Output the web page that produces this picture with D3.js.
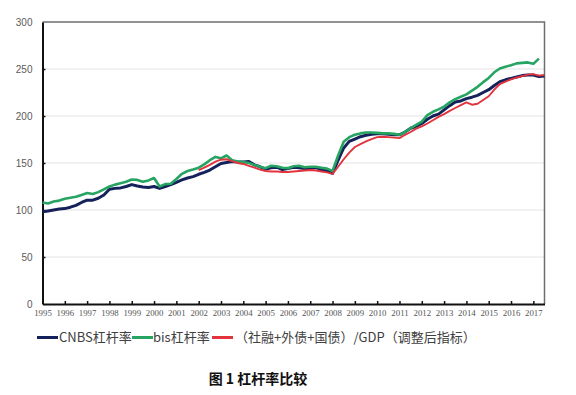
<!DOCTYPE html>
<html lang="zh">
<head>
<meta charset="utf-8">
<script src="https://cdn.jsdelivr.net/npm/d3@7"></script>
<style>
  body { margin: 0; background: #fff; }
  svg { display: block; }
</style>
</head>
<body>
<div id="chart"></div>
<script>
// quarterly series, first value at the start year, one value per quarter
var cnbsStart = 1995;
var cnbs = [98, 99, 100, 101,
  101.5, 103, 105, 108,
  110.5, 110.5, 112.5, 116,
  122, 123, 123.5, 125,
  127, 125.5, 124.5, 124,
  125, 123, 125, 127,
  129.5, 132, 134, 135.5,
  138, 140, 142.5, 146,
  149.5, 150.5, 151.5, 151,
  151, 151.5, 148, 146,
  143.5, 145, 145.5, 143,
  144, 145.5, 145, 144,
  144.5, 145, 143, 141.5,
  139, 153, 166, 173,
  175.5, 178, 179.5, 180.5,
  181, 181, 180.5, 180,
  180, 183, 187, 189,
  192, 196.5, 200, 202,
  206.5, 211, 215, 216,
  218.5, 220, 222, 225,
  228, 232.5, 236.5, 238.5,
  240, 241.5, 243, 243.5,
  243.5, 242, 242.5];

var bisStart = 1995;
var bis = [108, 107, 109, 110,
  112, 113, 114, 116,
  118, 117, 119, 122,
  125, 127, 128.5, 130,
  132.5, 132, 130, 131.5,
  134, 125, 127.5, 128,
  133, 138.5, 141.5, 143,
  145, 148.5, 153, 156.5,
  155, 158, 153, 151.5,
  151, 150, 148, 146,
  144.5, 147, 146.5, 145,
  144.5, 146.5, 147, 145.5,
  146, 146, 145, 144,
  141.5, 158, 172.5, 177.5,
  180, 181.5, 182.5, 182.5,
  182, 181.5, 181.5, 181,
  180, 183, 187, 190.5,
  194, 201, 204.5, 207,
  210, 214.5, 218, 220.5,
  223, 227, 231, 236,
  240.5, 246.5, 250.5, 252.5,
  254, 256, 256.5, 257,
  255.5, 261];

var adjStart = 2002;
var adj = [142.5, 145, 148, 151.5,
  153.5, 154, 152, 150,
  149, 147, 145, 143,
  141.5, 141, 141, 140.5,
  140.5, 141, 141.5, 142,
  142.5, 142, 141, 140,
  138.5, 146, 154, 161,
  167, 170, 173, 175.5,
  177.5, 178, 177.5, 177,
  176.5, 180, 183, 186.5,
  189, 192, 195.5, 199,
  202, 205.5, 208.5, 211.5,
  214.5, 212, 213, 217,
  221, 228, 234, 236.5,
  239, 241, 242.5, 244,
  244.5, 243, 243.5];

var years = d3.range(1995, 2018);
var yTicks = [0, 50, 100, 150, 200, 250, 300];
var legendLabels = ["CNBS杠杆率", "bis杠杆率", "（社融+外债+国债）/GDP（调整后指标）"];
var title = "图 1  杠杆率比较";

var W = 576, H = 395;
var plotL = 42.5, plotR = 544.5, plotT = 22, plotB = 304;

var svg = d3.select("#chart").append("svg")
  .attr("width", W).attr("height", H)
  .style("font-family", "'Noto Sans CJK SC', 'Noto Sans', sans-serif");

var x = d3.scaleLinear().domain([1995, 2017.5]).range([plotL, plotR]);
var y = d3.scaleLinear().domain([0, 300]).range([plotB, plotT]);

// gridlines
svg.append("g").selectAll("line")
  .data(yTicks.filter(function(d){ return d > 0 && d < 300; }))
  .enter().append("line")
  .attr("x1", plotL).attr("x2", plotR)
  .attr("y1", function(d){ return y(d); })
  .attr("y2", function(d){ return y(d); })
  .attr("stroke", "#e2e2e2").attr("stroke-width", 1);

// top and right frame
svg.append("path")
  .attr("d", "M" + plotL + "," + plotT + "H" + plotR + "V" + plotB)
  .attr("fill", "none").attr("stroke", "#6e6e6e").attr("stroke-width", 1.5);

// y axis
var yAxis = svg.append("g")
  .attr("transform", "translate(" + plotL + ",0)")
  .call(d3.axisLeft(y).tickValues(yTicks).tickSize(-3).tickSizeOuter(0).tickPadding(10));
yAxis.select(".domain").attr("stroke", "#111").attr("stroke-width", 2);
yAxis.selectAll(".tick line").attr("stroke", "#111").attr("stroke-width", 1.5);
yAxis.selectAll("text")
  .attr("fill", "#5a5a5a").style("font-size", "10px")
  .style("font-family", "'Liberation Sans', Arial, sans-serif");
yAxis.selectAll(".tick").filter(function(d){ return d === 0 || d === 300; })
  .select("line").remove();

// x axis
var xAxis = svg.append("g")
  .attr("transform", "translate(0," + plotB + ")")
  .call(d3.axisBottom(x).tickValues(years).tickFormat(d3.format("d"))
    .tickSize(-3).tickSizeOuter(0).tickPadding(6));
xAxis.select(".domain").attr("stroke", "#111").attr("stroke-width", 2);
xAxis.selectAll(".tick line").attr("stroke", "#111").attr("stroke-width", 1.5);
xAxis.selectAll("text")
  .attr("fill", "#555").style("font-size", "8.8px")
  .style("font-family", "'Liberation Serif', 'Times New Roman', serif");

// series
function toPoints(start, vals) {
  return vals.map(function(v, i){ return { t: start + i / 4, v: v }; });
}
var line = d3.line()
  .x(function(d){ return x(d.t); })
  .y(function(d){ return y(d.v); });

var series = [
  { pts: toPoints(cnbsStart, cnbs), color: "#15215a", width: 3 },
  { pts: toPoints(bisStart, bis), color: "#26a462", width: 2.6 },
  { pts: toPoints(adjStart, adj), color: "#e2343c", width: 1.9 }
];

svg.append("g").selectAll("path")
  .data(series)
  .enter().append("path")
  .attr("d", function(d){ return line(d.pts); })
  .attr("fill", "none")
  .attr("stroke", function(d){ return d.color; })
  .attr("stroke-width", function(d){ return d.width; })
  .attr("stroke-linejoin", "round");

// legend
var legendX = [37, 132, 212];
var legendTextX = [59, 153, 235];
var legendY = 337.5;
var lg = svg.append("g").selectAll("g")
  .data(series)
  .enter().append("g");
lg.append("line")
  .attr("x1", function(d, i){ return legendX[i]; })
  .attr("x2", function(d, i){ return legendX[i] + 21; })
  .attr("y1", legendY).attr("y2", legendY)
  .attr("stroke", function(d){ return d.color; })
  .attr("stroke-width", 3);
lg.append("text")
  .attr("x", function(d, i){ return legendTextX[i]; })
  .attr("y", legendY)
  .attr("dy", "0.36em")
  .attr("fill", "#404040")
  .style("font-size", "13px")
  .text(function(d, i){ return legendLabels[i]; });

// caption
svg.append("text")
  .attr("x", 258).attr("y", 384)
  .attr("text-anchor", "middle")
  .attr("fill", "#111")
  .style("font-size", "14px")
  .style("font-weight", "bold")
  .text(title);
</script>
</body>
</html>
